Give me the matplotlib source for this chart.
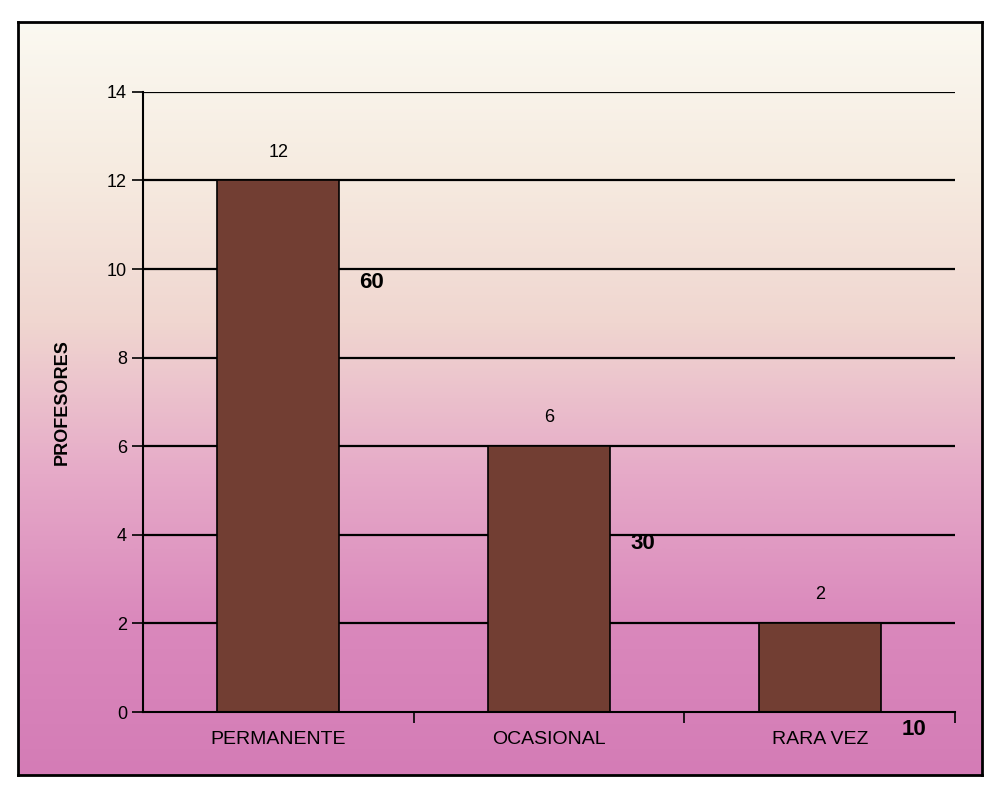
import matplotlib.pyplot as plt
import numpy as np
from matplotlib.colors import LinearSegmentedColormap

# datos
categorias = ['PERMANENTE', 'OCASIONAL', 'RARA VEZ']
profesores = [12, 6, 2]
porcentajes = [60, 30, 10]
pct_y = [9.7, 3.8, -0.4]  # altura donde aparecen los porcentajes

plt.rcParams['font.family'] = ['Liberation Sans', 'DejaVu Sans']

fig = plt.figure(figsize=(9.92, 7.92), dpi=100)

# fondo degradado dentro del marco (blanco arriba, rosa abajo)
bg = fig.add_axes([0.018, 0.022, 0.972, 0.95])
cmap = LinearSegmentedColormap.from_list(
    'fondo', ['#fbf9f1', '#f6ebe0', '#f0d6d0', '#e6aac8', '#da88bc', '#d47cb6'])
grad = np.linspace(0, 1, 256).reshape(-1, 1)
bg.imshow(grad, aspect='auto', cmap=cmap, extent=[0, 1, 0, 1])
bg.set_xticks([])
bg.set_yticks([])
for s in bg.spines.values():
    s.set_linewidth(2)
    s.set_color('black')

ax = fig.add_axes([0.144, 0.101, 0.819, 0.783])
ax.patch.set_alpha(0)

x = np.arange(len(categorias))
for v in range(2, 15, 2):
    ax.axhline(v, color='black', linewidth=1.6, zorder=1)
ax.bar(x, profesores, width=0.45, color='#723e33', edgecolor='black',
       linewidth=1.2, zorder=2)

for xi, v in zip(x, profesores):
    ax.text(xi, v + 0.45, str(v), ha='center', va='bottom', fontsize=13)

for xi, p, yy in zip(x, porcentajes, pct_y):
    ax.text(xi + 0.3, yy, str(p), ha='left', va='center', fontsize=16,
            fontweight='bold', zorder=3)

ax.set_xlim(-0.5, 2.5)
ax.set_ylim(0, 14)
ax.set_yticks(range(0, 15, 2))
ax.tick_params(axis='y', labelsize=13, length=8, width=1.2, direction='out')
ax.set_xticks([0.5, 1.5, 2.5])
ax.set_xticklabels([])
ax.tick_params(axis='x', length=8, width=1.2, direction='out')
ax.set_xticks(x, minor=True)
ax.set_xticklabels(categorias, minor=True, fontsize=14)
ax.tick_params(axis='x', which='minor', length=0, pad=14)

ax.spines['top'].set_visible(False)
ax.spines['right'].set_visible(False)
ax.spines['left'].set_linewidth(1.5)
ax.spines['bottom'].set_linewidth(1.5)

ax.set_ylabel('PROFESORES', fontsize=13, fontweight='bold', labelpad=26)

fig.savefig('out.png', dpi=100)
